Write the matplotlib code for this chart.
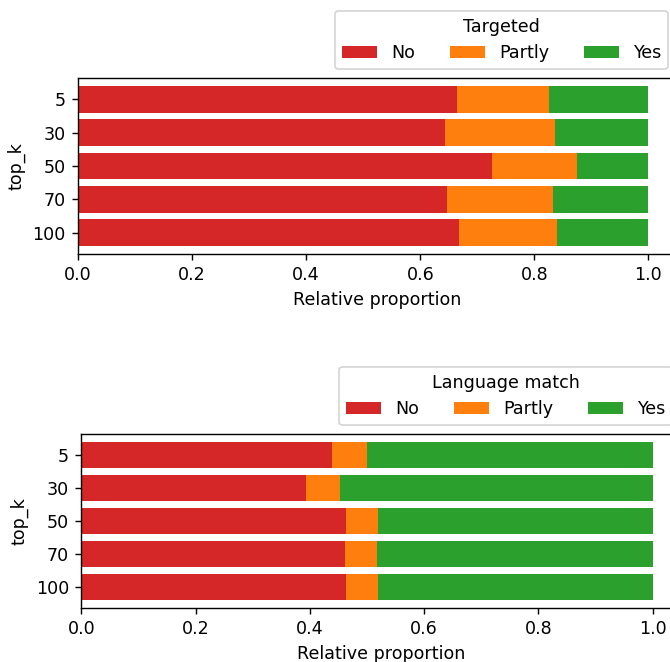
import numpy as np
import matplotlib
matplotlib.use("Agg")
import matplotlib.pyplot as plt

top_k = ["5", "30", "50", "70", "100"]
categories = ["No", "Partly", "Yes"]
colors = ["tab:red", "tab:orange", "tab:green"]

# relative proportions per top_k
targeted_no = [0.665, 0.644, 0.726, 0.646, 0.667]
targeted_partly = [0.161, 0.193, 0.148, 0.187, 0.172]
targeted_yes = [0.174, 0.163, 0.126, 0.167, 0.161]

lang_no = [0.439, 0.394, 0.463, 0.462, 0.463]
lang_partly = [0.061, 0.058, 0.056, 0.056, 0.056]
lang_yes = [0.500, 0.548, 0.481, 0.482, 0.481]

dpi = 126
fig = plt.figure(figsize=(670 / dpi, 662 / dpi), dpi=dpi)

ax1 = fig.add_axes([78 / 670, 1 - 254 / 662, 599 / 670, 176 / 662])
ax2 = fig.add_axes([81.3 / 670, 1 - 608 / 662, 600 / 670, 174 / 662])


def stacked(ax, parts, title):
    y = np.arange(len(top_k))
    left = np.zeros(len(top_k))
    for vals, lab, c in zip(parts, categories, colors):
        ax.barh(y, vals, left=left, height=0.8, color=c, label=lab)
        left += np.array(vals)
    ax.set_yticks(y)
    ax.set_yticklabels(top_k)
    ax.invert_yaxis()
    ax.set_xlim(0, 1.05)
    ax.set_xticks([0.0, 0.2, 0.4, 0.6, 0.8, 1.0])
    ax.set_ylabel("top_k")
    ax.set_xlabel("Relative proportion")
    ax.legend(title=title, ncol=3, loc="lower right", bbox_to_anchor=(1, 1))


stacked(ax1, [targeted_no, targeted_partly, targeted_yes], "Targeted")
stacked(ax2, [lang_no, lang_partly, lang_yes], "Language match")

fig.savefig("out.png", dpi=dpi)
